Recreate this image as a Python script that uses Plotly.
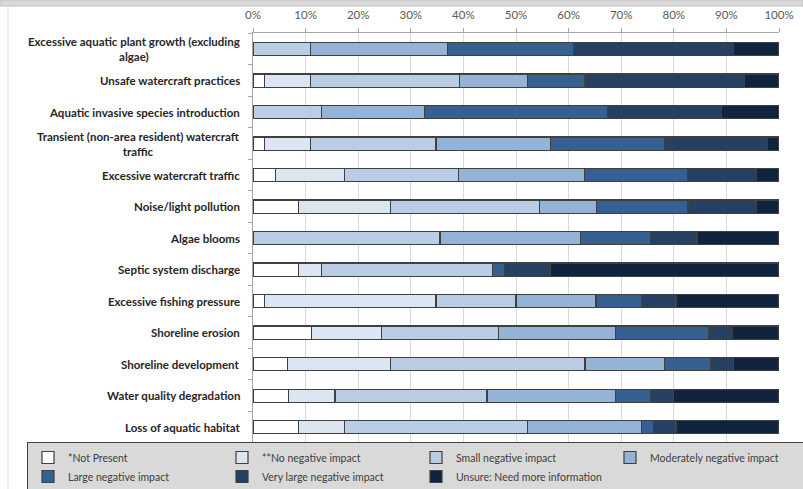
import plotly.graph_objects as go

# Threats, listed top to bottom
categories = [
    "Excessive aquatic plant growth (excluding<br>algae)",
    "Unsafe watercraft practices",
    "Aquatic invasive species introduction",
    "Transient (non-area resident) watercraft<br>traffic",
    "Excessive watercraft traffic",
    "Noise/light pollution",
    "Algae blooms",
    "Septic system discharge",
    "Excessive fishing pressure",
    "Shoreline erosion",
    "Shoreline development",
    "Water quality degradation",
    "Loss of aquatic habitat",
]

# Share of responses (%) per impact level, same order as categories
not_present = [0.0, 2.2, 0.0, 2.2, 4.3, 8.7, 0.0, 8.7, 2.2, 11.1, 6.5, 6.7, 8.7]
no_negative = [0.0, 8.7, 0.0, 8.7, 13.0, 17.4, 0.0, 4.3, 32.6, 13.3, 19.6, 8.9, 8.7]
small_neg = [10.9, 28.3, 13.0, 23.9, 21.7, 28.3, 35.6, 32.6, 15.2, 22.2, 37.0, 28.9, 34.8]
moderate_neg = [26.1, 13.0, 19.6, 21.7, 23.9, 10.9, 26.7, 0.0, 15.2, 22.2, 15.2, 24.4, 21.7]
large_neg = [23.9, 10.9, 34.8, 21.7, 19.6, 17.4, 13.3, 2.2, 8.7, 17.8, 8.7, 6.7, 2.2]
very_large_neg = [30.4, 30.4, 21.7, 19.6, 13.0, 13.0, 8.9, 8.7, 6.5, 4.4, 4.3, 4.4, 4.3]
unsure = [8.7, 6.5, 10.9, 2.2, 4.3, 4.3, 15.6, 43.5, 19.6, 8.9, 8.7, 20.0, 19.6]

series = [
    ("*Not Present", not_present, "#FFFFFF"),
    ("**No negative impact", no_negative, "#DCE6F2"),
    ("Small negative impact", small_neg, "#B9CDE5"),
    ("Moderately negative impact", moderate_neg, "#95B3D7"),
    ("Large negative impact", large_neg, "#376092"),
    ("Very large negative impact", very_large_neg, "#254061"),
    ("Unsure: Need more information", unsure, "#10243F"),
]

tick_vals = [0, 10, 20, 30, 40, 50, 60, 70, 80, 90, 100]
tick_text = [f"{v}%" for v in tick_vals]

W, H = 803, 489
L, R, T, B = 253, 24, 33, 46
FONT = "Lato, 'Open Sans', sans-serif"

fig = go.Figure()
for name, vals, color in series:
    fig.add_trace(go.Bar(
        y=categories, x=vals, name=name, orientation="h",
        marker=dict(color=color, line=dict(color="#404040", width=1.2)),
        hoverinfo="skip",
    ))

pw = W - L - R
ph = H - T - B


def px_to_paper_x(px):
    return (px - L) / pw


def px_to_paper_y(py):
    return 1 - (py - T) / ph


# Category labels: bold, centred lines, right-aligned against the axis
for cat in categories:
    fig.add_annotation(
        x=px_to_paper_x(242), xref="paper", y=cat, yref="y",
        text=f"<b>{cat}</b>", showarrow=False,
        xanchor="right", yanchor="middle", align="center",
        font=dict(family=FONT, size=11.5, color="#262626"),
    )

shapes = [
    # grey strip along the top edge
    dict(type="rect", xref="paper", yref="paper",
         x0=px_to_paper_x(0), x1=px_to_paper_x(W),
         y0=px_to_paper_y(0), y1=px_to_paper_y(6),
         fillcolor="#D9D9D9", line=dict(color="#BFBFBF", width=1), layer="above"),
    # thin frame line on the left
    dict(type="line", xref="paper", yref="paper",
         x0=px_to_paper_x(8), x1=px_to_paper_x(8),
         y0=px_to_paper_y(6), y1=px_to_paper_y(H),
         line=dict(color="#D9D9D9", width=1)),
]

fig.update_layout(
    width=W, height=H,
    margin=dict(l=L, r=R, t=T, b=B, autoexpand=False),
    barmode="stack",
    barnorm="percent",
    bargap=0.58,
    plot_bgcolor="#FFFFFF",
    paper_bgcolor="#FFFFFF",
    font=dict(family=FONT, size=11, color="#595959"),
    showlegend=True,
    legend=dict(
        orientation="h", traceorder="normal",
        xref="paper", yref="paper",
        x=px_to_paper_x(27), y=px_to_paper_y(492), xanchor="left", yanchor="bottom",
        bgcolor="#D9D9D9", bordercolor="#404040", borderwidth=1,
        font=dict(family=FONT, size=10.5, color="#404040"),
        entrywidth=149, entrywidthmode="pixels",
        itemwidth=30, tracegroupgap=0,
    ),
    shapes=shapes,
    xaxis=dict(
        side="top", range=[0, 100],
        tickvals=tick_vals, ticktext=tick_text,
        showgrid=True, gridcolor="#D9D9D9", gridwidth=1,
        showline=True, linecolor="#A6A6A6", linewidth=1, mirror=True,
        ticks="outside", ticklen=4, tickcolor="#A6A6A6",
        ticklabelstandoff=4,
        tickfont=dict(family=FONT, size=11.5, color="#595959"),
        zeroline=False, fixedrange=True,
    ),
    yaxis=dict(
        categoryorder="array", categoryarray=categories,
        autorange="reversed",
        showticklabels=False,
        showline=True, linecolor="#A6A6A6", linewidth=1,
        ticks="outside", ticklen=4, tickcolor="#A6A6A6", tickson="boundaries",
        showgrid=False, fixedrange=True,
    ),
)

fig.write_html("out.html")
